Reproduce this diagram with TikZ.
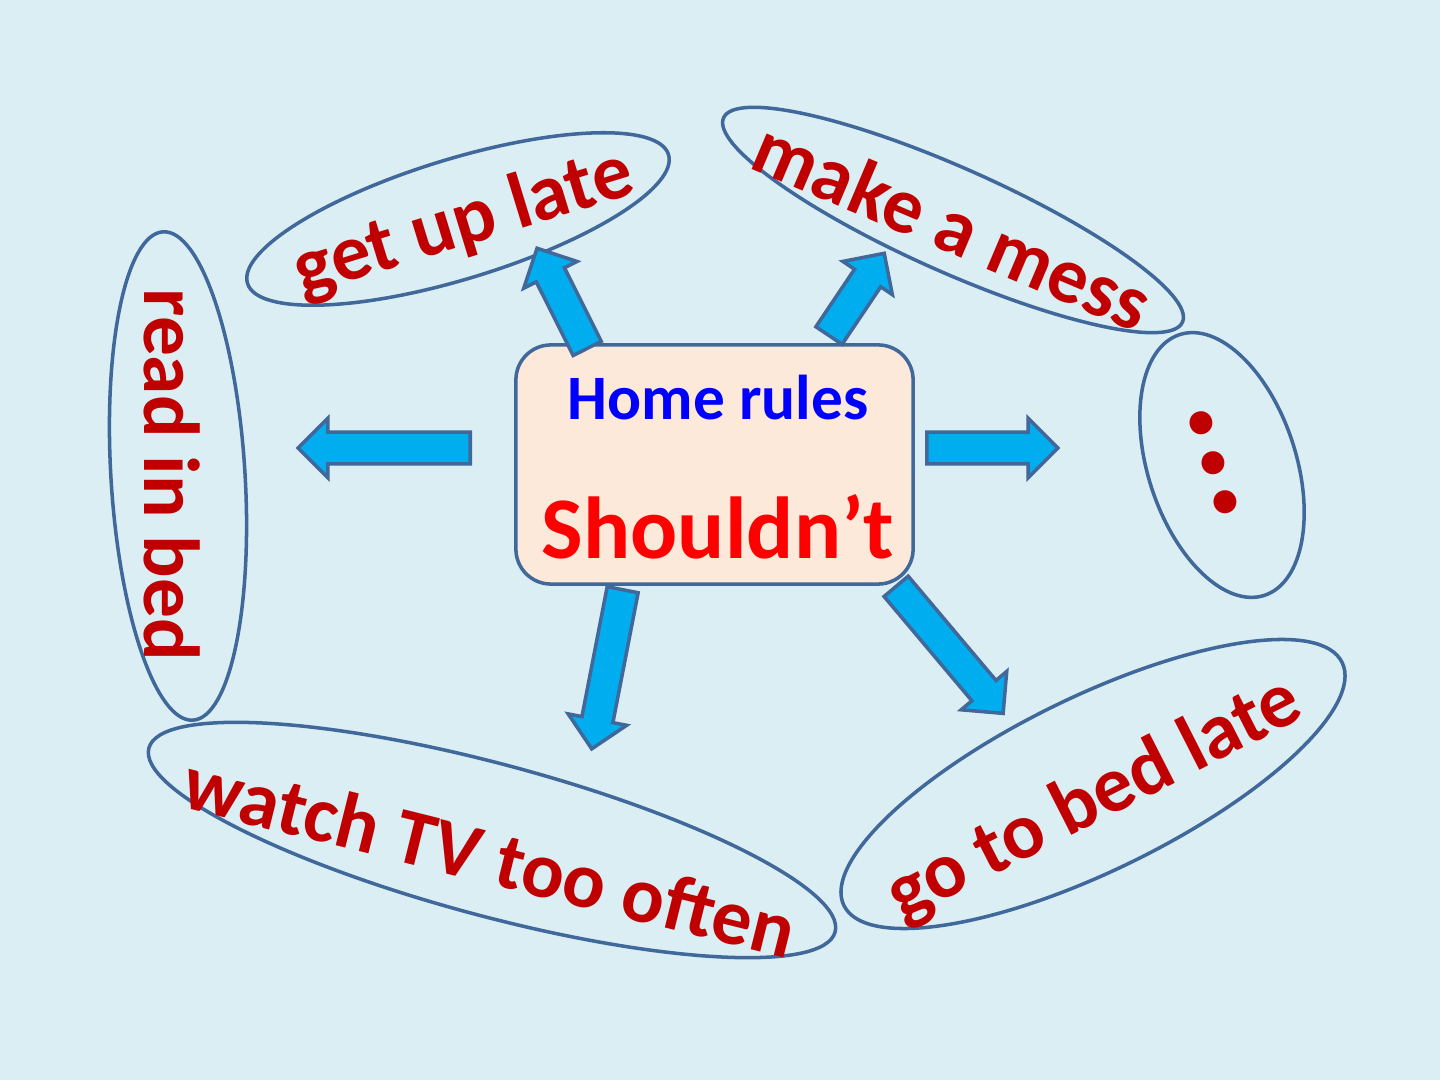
\documentclass[tikz,border=0pt]{standalone}
\usepackage{fontspec}
\setmainfont{Carlito}
\usepackage{tikz}
\usetikzlibrary{shapes.geometric, shapes.arrows}
\definecolor{backdrop} {HTML}{DAEEF3}
\definecolor{rim}      {HTML}{41689A}
\definecolor{fatblue}  {HTML}{00AEEF}
\definecolor{boxfill}  {HTML}{FDE9D9}
\definecolor{darkred}  {HTML}{C00000}
\definecolor{headblue} {HTML}{0000FF}
\definecolor{brightred}{HTML}{FF0000}
\tikzset{
  bubble/.style={ellipse, draw=rim, line width=1pt, inner sep=0pt},
  ruletext/.style={text=darkred, font=\bfseries\fontsize{22.6}{26}\selectfont, inner sep=0pt},
  fatarrow/.style={single arrow, draw=rim, fill=fatblue, line width=1pt,
    inner xsep=0pt, inner ysep=0.14cm, single arrow head extend=0.14cm,
    single arrow tip angle=90, anchor=tail},
  rulebox/.style={rectangle, rounded corners=0.35cm, draw=rim, fill=boxfill,
    line width=1pt, minimum width=3.97cm, minimum height=2.39cm}
}

\begin{document}
\begin{tikzpicture}[x=0.01cm, y=-0.01cm]
    \fill[backdrop] (0,0) rectangle (1440,1080);
    \useasboundingbox (0,0) rectangle (1440,1080);
    % ellipses round the rules
    \foreach \n/\x/\y/\a/\w/\h in
      {bed/178/476/-86.5/4.89/1.34, up/458/219/17/4.40/1.20,
       mess/953/220/-24/5.02/1.04, more/1222/465/-72/2.74/1.48,
       tv/492/840/-15/7.10/1.52, late/1093/784/26/5.54/1.74}
      {\node[bubble, minimum width=\w cm, minimum height=\h cm, rotate=\a] (\n) at (\x,\y) {};}
    \foreach \n/\x/\y/\a/\t in
      {bed/172/475/-90/read in bed, up/464/224/17/get up late,
       mess/953/225/-23/make a mess, tv/490/856/-14/watch TV too often,
       late/1095/800/27/go to bed late}
      {\node[ruletext, rotate=\a] (\n-text) at (\x,\y) {\t};}
    \node[ruletext, font=\bfseries\fontsize{44}{48}\selectfont, rotate=-73] (more-text) at (1213,463) {...};
    % centre box
    \node[rulebox] (rules) at (714.5,464.5) {};
    \node[text=headblue, font=\bfseries\fontsize{18}{22}\selectfont] (home) at (718,398) {Home rules};
    \node[text=brightred, font=\bfseries\fontsize{25}{30}\selectfont] (shouldnt) at (718,527) {Shouldn’t};
    % block arrows
    \foreach \n/\x/\y/\a/\l in
      {to-bed/472/448/180/1.72, to-more/925/448/0/1.31,
       to-up/588/350/116.6/1.12, to-mess/828/337/56.1/0.99,
       to-tv/623/588/259/1.62, to-late/895/585/-49.9/1.66}
      {\node[fatarrow, minimum height=\l cm, rotate=\a] (\n) at (\x,\y) {};}
\end{tikzpicture}
\end{document}
